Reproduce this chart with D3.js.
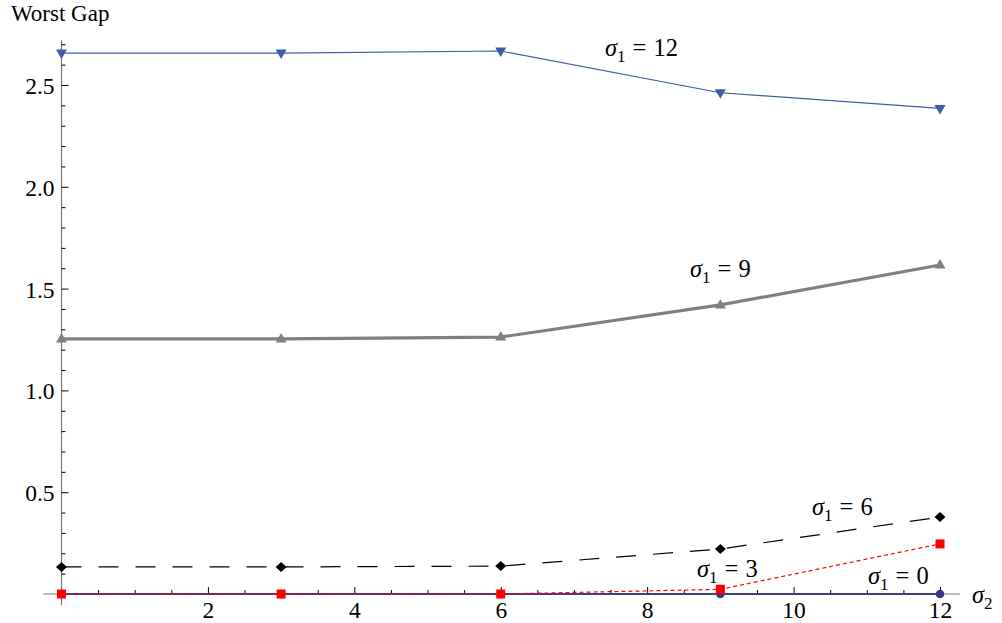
<!DOCTYPE html>
<html><head><meta charset="utf-8">
<script src="https://cdn.jsdelivr.net/npm/d3@7"></script>
<style>
html,body{margin:0;padding:0;background:#fff;}
svg text{font-family:"Liberation Serif","Times New Roman",serif;fill:#000;}
</style></head>
<body><svg id="c" width="1002" height="623"></svg>
<script>
// ---- data ----
const sigma2 = [0, 3, 6, 9, 12];
const gap_s12 = [2.657, 2.657, 2.667, 2.462, 2.385];
const gap_s9  = [1.253, 1.253, 1.262, 1.420, 1.616];
const gap_s6  = [0.133, 0.133, 0.137, 0.221, 0.378];
const gap_s3  = [0.0, 0.0, 0.0, 0.023, 0.246];
const gap_s0  = [0.0, 0.0, 0.0, 0.0, 0.0];
const seriesNames = ["0", "3", "6", "9", "12"];
const xTicks = [2, 4, 6, 8, 10, 12];
const yTicks = [0.5, 1.0, 1.5, 2.0, 2.5];

// ---- setup ----
const svg = d3.select("#c");
const x = d3.scaleLinear().domain([0, 12]).range([61.5, 940]);
const y = d3.scaleLinear().domain([0, 2.5]).range([594, 85]);
const axisColor = "#777";

svg.append("line").attr("x1", x(-0.25)).attr("x2", x(12.27)).attr("y1", y(0)).attr("y2", y(0))
  .attr("stroke", axisColor).attr("stroke-width", 1.2);
svg.append("line").attr("x1", x(0)).attr("x2", x(0)).attr("y1", y(2.72)).attr("y2", y(-0.055))
  .attr("stroke", axisColor).attr("stroke-width", 1.2);

const xMinor = d3.range(0.5, 12.01, 0.5).filter(v => !xTicks.includes(v));
const yMinor = d3.range(1, 28).map(i => i / 10).filter(v => !yTicks.some(t => Math.abs(t - v) < 1e-9));

const gx = svg.append("g").attr("transform", `translate(0,${y(0)})`);
gx.call(d3.axisBottom(x).tickValues(xTicks).tickSize(-7).tickPadding(10).tickSizeOuter(0));
const gxm = svg.append("g").attr("transform", `translate(0,${y(0)})`);
gxm.call(d3.axisBottom(x).tickValues(xMinor).tickFormat("").tickSize(-4).tickSizeOuter(0));

const gy = svg.append("g").attr("transform", `translate(${x(0)},0)`);
gy.call(d3.axisLeft(y).tickValues(yTicks).tickFormat(d3.format(".1f")).tickSize(-7).tickPadding(7).tickSizeOuter(0));
const gym = svg.append("g").attr("transform", `translate(${x(0)},0)`);
gym.call(d3.axisLeft(y).tickValues(yMinor).tickFormat("").tickSize(-4).tickSizeOuter(0));

[gx, gxm, gy, gym].forEach(g => {
  g.select(".domain").remove();
  g.selectAll(".tick line").attr("stroke", "#000").attr("stroke-width", 1);
  g.selectAll("text").attr("font-size", 23.5).attr("font-family", "Liberation Serif").attr("fill", "#000");
});
gx.selectAll("text").attr("dy", "0.71em").attr("transform", "translate(0,-3)");
gy.selectAll("text").attr("dy", "0.36em");

// ---- series ----
const series = [
  {name: seriesNames[0], vals: gap_s0, color: "#3f3f7e", width: 2.2, dash: null, marker: "circle"},
  {name: seriesNames[1], vals: gap_s3, color: "#ff0000", width: 1.2, dash: "4,3", marker: "square"},
  {name: seriesNames[2], vals: gap_s6, color: "#000000", width: 1.2, dash: "20,17", marker: "diamond"},
  {name: seriesNames[3], vals: gap_s9, color: "#808080", width: 3.2, dash: null, marker: "tri-up"},
  {name: seriesNames[4], vals: gap_s12, color: "#3d5da6", width: 1.2, dash: null, marker: "tri-down"}
];

const markerPath = {
  "tri-up": "M0,-6L5.5,3.5L-5.5,3.5Z",
  "tri-down": "M0,6L5.5,-3.5L-5.5,-3.5Z",
  "diamond": "M0,-5L5.5,0L0,5L-5.5,0Z",
  "square": "M-4.5,-4.5H4.5V4.5H-4.5Z"
};
const markerColor = {circle: "#3a3a8c", square: "#ff0000", diamond: "#000", "tri-up": "#808080", "tri-down": "#3d5da6"};

const line = d3.line().x(d => x(d[0])).y(d => y(d[1]));
series.forEach(s => {
  const pts = sigma2.map((v, i) => [v, s.vals[i]]);
  svg.append("path").attr("d", line(pts)).attr("fill", "none")
    .attr("stroke", s.color).attr("stroke-width", s.width)
    .attr("stroke-dasharray", s.dash);
});
series.forEach(s => {
  const pts = sigma2.map((v, i) => [v, s.vals[i]]);
  const g = svg.append("g");
  pts.forEach(p => {
    if (s.marker === "circle") {
      g.append("circle").attr("cx", x(p[0])).attr("cy", y(p[1])).attr("r", 4.3).attr("fill", markerColor.circle);
    } else {
      g.append("path").attr("d", markerPath[s.marker])
        .attr("transform", `translate(${x(p[0])},${y(p[1])})`).attr("fill", markerColor[s.marker]);
    }
  });
});

// ---- labels ----
function sigmaLabel(px, py, sub, rest) {
  const t = svg.append("text").attr("x", px).attr("y", py).attr("font-size", 24.5);
  t.append("tspan").attr("font-style", "italic").text("σ");
  t.append("tspan").attr("font-size", 17).attr("dy", 6).text(sub);
  if (rest) {
    t.append("tspan").attr("dy", -6).attr("dx", 7).text("=");
    t.append("tspan").attr("dx", 7).text(rest);
  }
  return t;
}
const seriesLabels = [
  {px: 605, py: 56, sub: "1", rest: "12"},
  {px: 690, py: 277, sub: "1", rest: "9"},
  {px: 812, py: 515, sub: "1", rest: "6"},
  {px: 697, py: 577, sub: "1", rest: "3"},
  {px: 868, py: 584, sub: "1", rest: "0"}
];
seriesLabels.forEach(l => sigmaLabel(l.px, l.py, l.sub, l.rest));
sigmaLabel(972, 603, "2", "");

svg.append("text").attr("x", 11).attr("y", 21).attr("font-size", 23).text("Worst Gap");
</script></body></html>
